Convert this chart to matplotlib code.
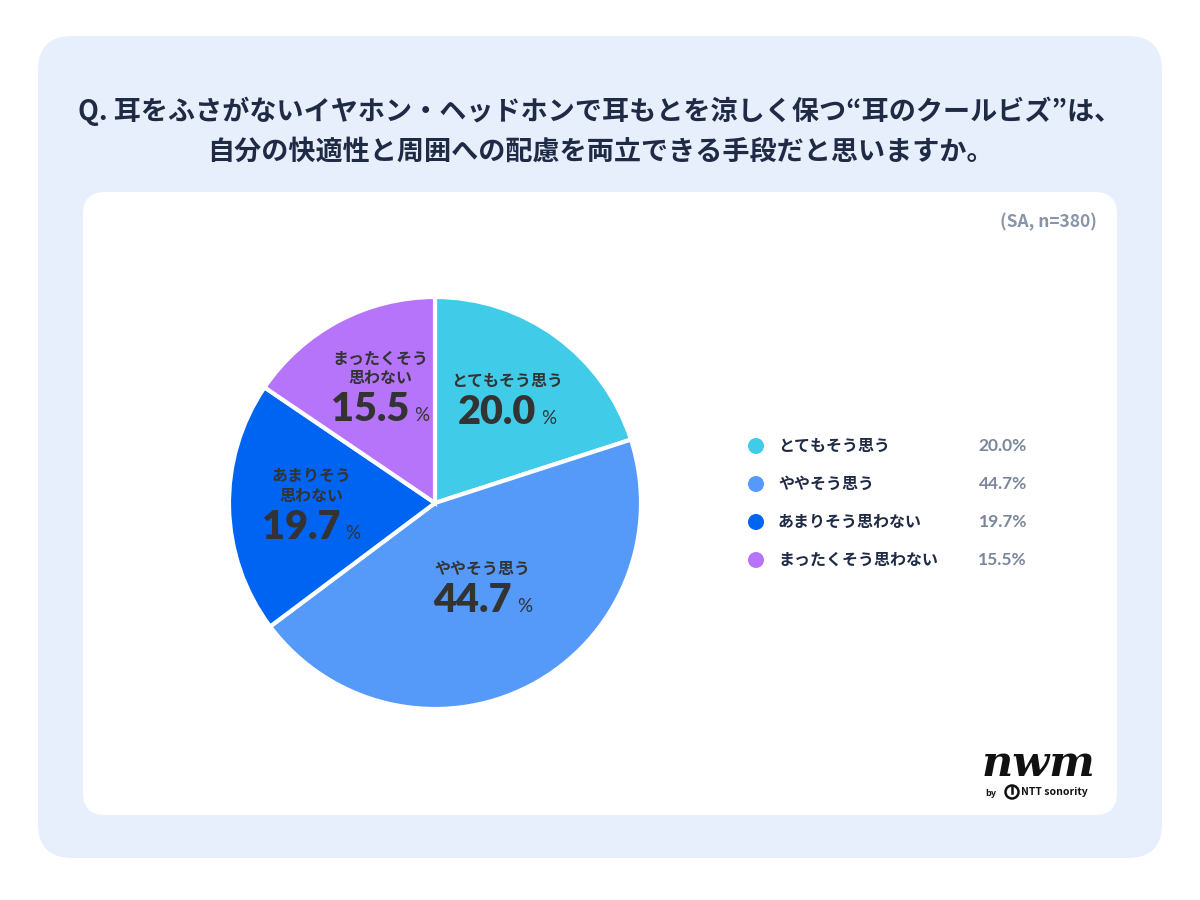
import matplotlib
matplotlib.use("Agg")
import matplotlib.pyplot as plt
from matplotlib.patches import FancyBboxPatch, Circle
import numpy as np

plt.rcParams['font.family'] = ['Noto Sans CJK JP', 'DejaVu Sans']

# data
categories = ['とてもそう思う', 'ややそう思う', 'あまりそう思わない', 'まったくそう思わない']
pie_labels = ['とてもそう思う', 'ややそう思う', 'あまりそう\n思わない', 'まったくそう\n思わない']
values = [20.0, 44.7, 19.7, 15.5]
colors = ['#40CCE8', '#5599F9', '#0064F2', '#B674FB']
title_lines = ['Q. 耳をふさがないイヤホン・ヘッドホンで耳もとを涼しく保つ“耳のクールビズ”は、',
               '自分の快適性と周囲への配慮を両立できる手段だと思いますか。']
note = '(SA, n=380)'

fig = plt.figure(figsize=(12, 9), dpi=100)
fig.patch.set_facecolor('white')

# background panels in pixel coordinates
bg = fig.add_axes([0, 0, 1, 1])
bg.set_xlim(0, 1200)
bg.set_ylim(900, 0)
bg.axis('off')
bg.add_patch(FancyBboxPatch((38, 36), 1124, 822, boxstyle='round,pad=0,rounding_size=34',
                            fc='#E8EFFC', ec='none'))
bg.add_patch(FancyBboxPatch((83, 192), 1034, 623, boxstyle='round,pad=0,rounding_size=22',
                            fc='white', ec='none'))

navy = '#1F2A44'
bg.text(600, 111, title_lines[0], ha='center', va='center', fontsize=19.5,
        fontweight='bold', color=navy)
bg.text(600, 152, title_lines[1], ha='center', va='center', fontsize=19.5,
        fontweight='bold', color=navy)
bg.text(1097, 222, note, ha='right', va='center', fontsize=12.5, fontweight='bold',
        color='#8A94A8')

# legend
leg_y = [446, 484, 522, 560]
for i, (cat, v) in enumerate(zip(categories, values)):
    bg.add_patch(Circle((756, leg_y[i]), 8, fc=colors[i], ec='none'))
    bg.text(778, leg_y[i], cat, ha='left', va='center', fontsize=11.5,
            fontweight='bold', color=navy)
    bg.text(1027, leg_y[i], f'{v:.1f}%', ha='right', va='center', fontsize=12.5,
            fontweight='bold', color='#7A879B', family=['Lato', 'DejaVu Sans'])

# logo
bg.text(1038, 764, 'nwm', ha='center', va='center', fontsize=31, color='#111111',
        family='DejaVu Serif', style='italic', fontweight='bold')
bg.text(991, 793, 'by', ha='center', va='center', fontsize=6.5, color='#111111',
        fontweight='bold')
bg.add_patch(Circle((1012, 792), 6.5, fc='none', ec='#111111', lw=1.8))
bg.plot([1012, 1012], [787, 793], color='#111111', lw=1.8)
bg.text(1021, 792, 'NTT sonority', ha='left', va='center', fontsize=7.5, color='#111111',
        fontweight='bold')

# pie
cx, cy, R = 435, 503, 206
ax = fig.add_axes([(cx - R) / 1200, 1 - (cy + R) / 900, 2 * R / 1200, 2 * R / 900])
wedges, _ = ax.pie(values, colors=colors, startangle=90, counterclock=False,
                   wedgeprops=dict(edgecolor='white', linewidth=3))
ax.set_xlim(-1, 1)
ax.set_ylim(-1, 1)
ax.set_aspect('auto')

label_r = [0.57, 0.52, 0.61, 0.53]
angle_shift = [-2, -1, 9, 2]
num_color = '#333333'
nums, pcts = [], []
for i, w in enumerate(wedges):
    mid = np.deg2rad((w.theta1 + w.theta2) / 2 + angle_shift[i])
    x, y = label_r[i] * np.cos(mid), label_r[i] * np.sin(mid)
    ax.annotate(pie_labels[i], (x, y), xytext=(0, 22), textcoords='offset pixels',
                ha='center', va='bottom', fontsize=11.5, fontweight='bold',
                color=num_color, linespacing=1.25)
    t = ax.annotate(f'{values[i]:.1f}', (x, y), xytext=(0, -13), textcoords='offset pixels',
                    ha='left', va='baseline', fontsize=28.5, fontweight='heavy',
                    color=num_color, family=['Lato', 'DejaVu Sans'])
    p = ax.annotate('%', (x, y), xytext=(0, -13), textcoords='offset pixels',
                    ha='left', va='baseline', fontsize=13.5, color=num_color,
                    family=['Lato', 'DejaVu Sans'])
    nums.append(t)
    pcts.append(p)

# centre "number %" groups on their anchor
fig.canvas.draw()
r = fig.canvas.get_renderer()
gap = 5
for t, p in zip(nums, pcts):
    wn = t.get_window_extent(r).width
    wp = p.get_window_extent(r).width
    left = -(wn + gap + wp) / 2
    t.set_position((left, -13))
    p.set_position((left + wn + gap, -13))

fig.savefig('out.png', dpi=100)
